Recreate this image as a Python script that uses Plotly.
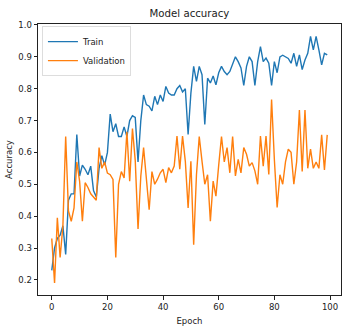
import plotly.graph_objects as go

epochs = list(range(100))

train_acc = [
    0.23, 0.30, 0.33, 0.34, 0.37, 0.28, 0.45, 0.47, 0.47, 0.656,
    0.526, 0.56, 0.547, 0.53, 0.557, 0.48, 0.46, 0.55, 0.59, 0.56,
    0.60, 0.72, 0.665, 0.69, 0.65, 0.65, 0.68, 0.65, 0.70, 0.715,
    0.71, 0.57, 0.70, 0.78, 0.75, 0.745, 0.73, 0.776, 0.75, 0.78,
    0.76, 0.807, 0.786, 0.78, 0.78, 0.80, 0.81, 0.79, 0.80, 0.656,
    0.786, 0.87, 0.823, 0.87, 0.844, 0.6875, 0.833, 0.818, 0.84, 0.812,
    0.85, 0.87, 0.854, 0.844, 0.854, 0.88, 0.90, 0.885, 0.865, 0.81,
    0.87, 0.90, 0.885, 0.81, 0.885, 0.932, 0.885, 0.896, 0.88, 0.81,
    0.885, 0.85, 0.90, 0.905, 0.90, 0.895, 0.88, 0.911, 0.87, 0.906,
    0.86, 0.89, 0.911, 0.964, 0.922, 0.964, 0.922, 0.875, 0.911, 0.906,
]

val_acc = [
    0.33, 0.19, 0.395, 0.27, 0.37, 0.65, 0.416, 0.384, 0.426, 0.57,
    0.51, 0.384, 0.505, 0.49, 0.47, 0.46, 0.45, 0.615, 0.55, 0.57,
    0.535, 0.53, 0.515, 0.27, 0.50, 0.54, 0.52, 0.665, 0.51, 0.675,
    0.575, 0.36, 0.526, 0.615, 0.516, 0.42, 0.54, 0.50, 0.516, 0.536,
    0.547, 0.505, 0.552, 0.536, 0.557, 0.651, 0.547, 0.651, 0.572, 0.426,
    0.572, 0.31, 0.53, 0.65, 0.572, 0.50, 0.53, 0.384, 0.51, 0.4625,
    0.56, 0.65, 0.57, 0.615, 0.536, 0.65, 0.526, 0.578, 0.536, 0.615,
    0.594, 0.557, 0.568, 0.542, 0.50, 0.651, 0.557, 0.651, 0.531, 0.766,
    0.578, 0.427, 0.53, 0.50, 0.57, 0.61, 0.60, 0.50, 0.57, 0.733,
    0.54, 0.733, 0.55, 0.61, 0.55, 0.57, 0.55, 0.655, 0.545, 0.655,
]

x_ticks = [0, 20, 40, 60, 80, 100]
y_ticks = [0.2, 0.3, 0.4, 0.5, 0.6, 0.7, 0.8, 0.9, 1.0]

FONT = "DejaVu Sans"

fig = go.Figure()
fig.add_trace(go.Scatter(x=epochs, y=train_acc, mode="lines", name="Train",
                         line=dict(color="#1f77b4", width=1.4)))
fig.add_trace(go.Scatter(x=epochs, y=val_acc, mode="lines", name="Validation",
                         line=dict(color="#ff7f0e", width=1.4)))

axis_common = dict(
    showline=True, linecolor="#222", linewidth=1, mirror=True,
    ticks="outside", ticklen=3.5, tickwidth=1, tickcolor="#222",
    showgrid=False, zeroline=False,
    tickfont=dict(family=FONT, size=8.5, color="#222"),
)

fig.update_layout(
    width=347, height=335,
    margin=dict(l=38, r=6, t=24, b=39.5),
    paper_bgcolor="white", plot_bgcolor="white",
    font=dict(family=FONT, color="#222"),
    title=dict(text="Model accuracy", x=0.546, xanchor="center",
               y=1 - 13 / 335, yanchor="middle", yref="container",
               font=dict(family=FONT, size=10.2, color="#222")),
    xaxis=dict(range=[-4.95, 103.95], tickvals=x_ticks,
               title=dict(text="Epoch", font=dict(family=FONT, size=8.5), standoff=7),
               **axis_common),
    yaxis=dict(range=[0.1525, 1.003], tickvals=y_ticks, tickformat=".1f",
               title=dict(text="Accuracy", font=dict(family=FONT, size=8.5), standoff=4),
               **axis_common),
    legend=dict(x=0.013, y=0.992, xanchor="left", yanchor="top",
                bgcolor="rgba(255,255,255,0.8)", bordercolor="#ddd", borderwidth=1,
                font=dict(family=FONT, size=8.5, color="#222"),
                tracegroupgap=0, itemwidth=30),
    showlegend=True,
)

fig.write_html("out.html")
